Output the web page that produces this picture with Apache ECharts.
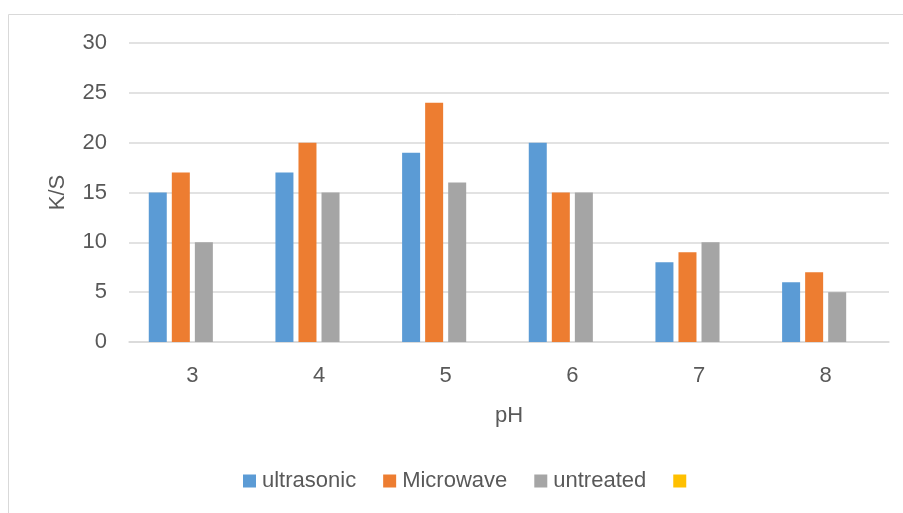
<!DOCTYPE html>
<html>
<head>
<meta charset="utf-8">
<script src="https://cdn.jsdelivr.net/npm/echarts@6/dist/echarts.min.js"></script>
<style>
  html, body { margin: 0; padding: 0; background: #fff; }
  #chart { width: 903px; height: 513px; }
</style>
</head>
<body>
<div id="chart"></div>
<script>
// pH categories and K/S readings for each treatment
const categories = ['3', '4', '5', '6', '7', '8'];
const ultrasonic = [15, 17, 19, 20, 8, 6];
const microwave = [17, 20, 24, 15, 9, 7];
const untreated = [10, 15, 16, 15, 10, 5];
const yTicks = { min: 0, max: 30, interval: 5 };

const textColor = '#595959';
const lineColor = '#d9d9d9';
const font = 'Liberation Sans, Arial, sans-serif';

const chart = echarts.init(document.getElementById('chart'), null, { renderer: 'canvas' });

function barSeries(name, data, color) {
  return {
    name: name,
    type: 'bar',
    data: data,
    barWidth: 18,
    barGap: '28%',
    itemStyle: { color: color },
    emphasis: { disabled: true }
  };
}

chart.setOption({
  animation: false,
  graphic: [{
    type: 'rect',
    shape: { x: 8.5, y: 14.5, width: 1000, height: 1000 },
    style: { fill: 'none', stroke: lineColor, lineWidth: 1 },
    silent: true
  }],
  grid: { left: 129, right: 14, top: 43, bottom: 171 },
  legend: {
    left: 243,
    top: 470,
    padding: 0,
    itemWidth: 13,
    itemHeight: 13,
    itemGap: 27,
    icon: 'rect',
    textStyle: { color: textColor, fontSize: 22, fontFamily: font, padding: [0, 0, 0, 1] },
    data: ['ultrasonic', 'Microwave', 'untreated', '\u00a0']
  },
  xAxis: {
    type: 'category',
    data: categories,
    name: 'pH',
    nameLocation: 'middle',
    nameGap: 63,
    nameTextStyle: { color: textColor, fontSize: 22, fontFamily: font },
    axisLine: { lineStyle: { color: lineColor, width: 1.5 } },
    axisTick: { show: false },
    axisLabel: { color: textColor, fontSize: 22, fontFamily: font, margin: 23 }
  },
  yAxis: {
    type: 'value',
    min: yTicks.min,
    max: yTicks.max,
    interval: yTicks.interval,
    name: 'K/S',
    nameLocation: 'middle',
    nameGap: 60,
    nameRotate: 90,
    nameTextStyle: { color: textColor, fontSize: 22, fontFamily: font },
    axisLine: { show: false },
    axisTick: { show: false },
    axisLabel: { color: textColor, fontSize: 22, fontFamily: font, margin: 22 },
    splitLine: { lineStyle: { color: lineColor, width: 1.5 } }
  },
  series: [
    barSeries('ultrasonic', ultrasonic, '#5b9bd5'),
    barSeries('Microwave', microwave, '#ed7d31'),
    barSeries('untreated', untreated, '#a5a5a5'),
    barSeries('\u00a0', [], '#ffc000')
  ]
});
</script>
</body>
</html>
